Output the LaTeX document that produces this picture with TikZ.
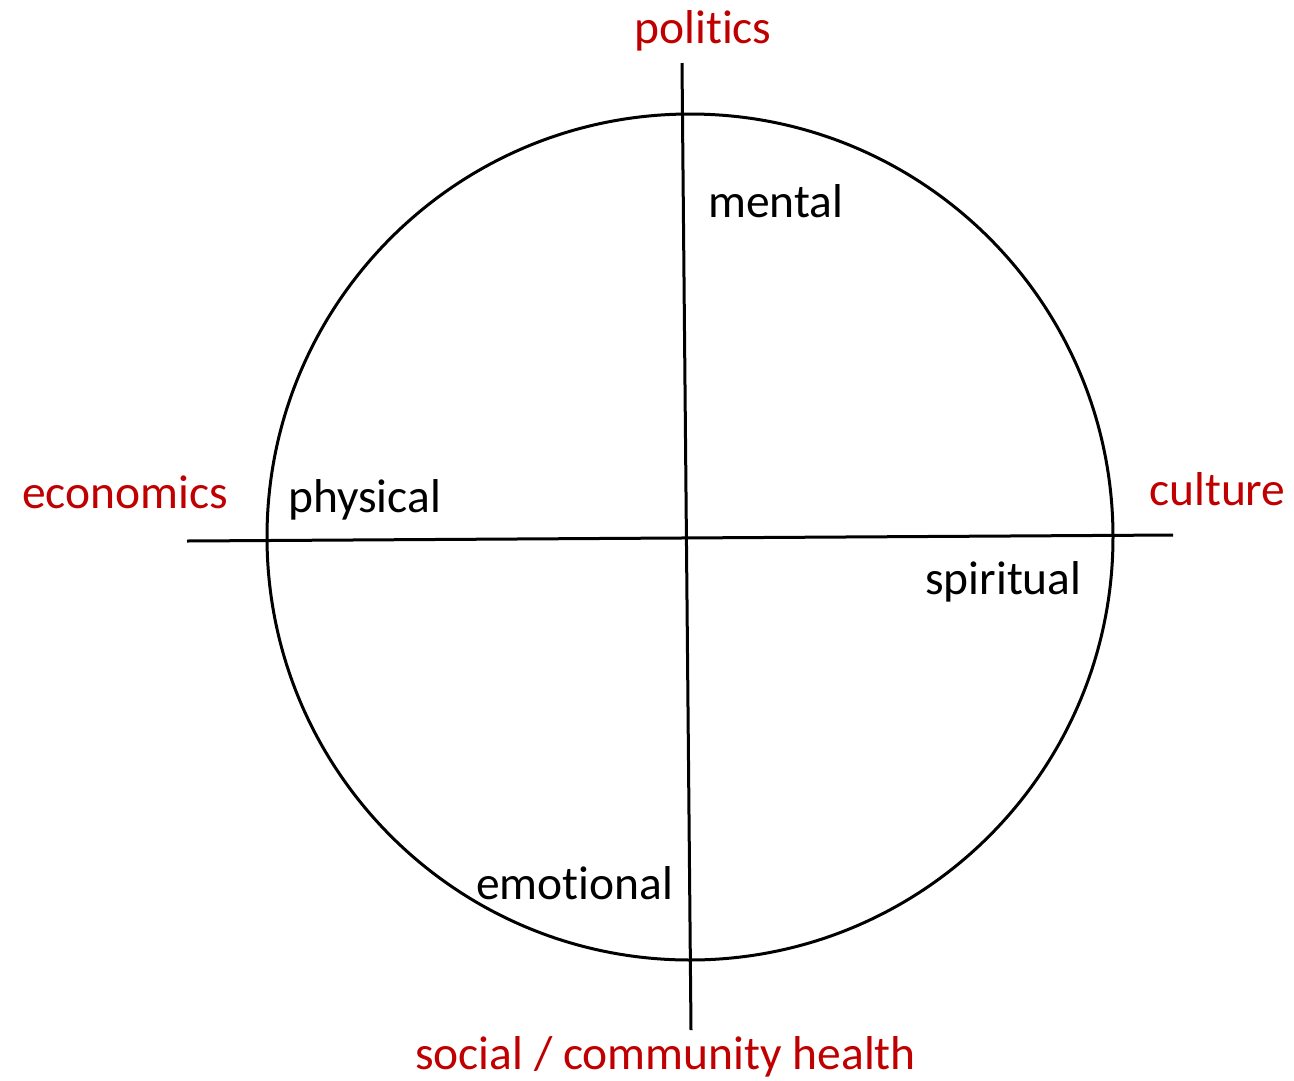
\documentclass[tikz,border=0pt]{standalone}
\usepackage{fontspec}
\setmainfont[Ligatures=NoCommon,RawFeature={-liga;-clig;-calt}]{Carlito}
\definecolor{darkred}{HTML}{C00000}
\begin{document}
\begin{tikzpicture}[x=1pt,y=-1pt,
  lbl/.style={font=\fontsize{47.5}{52}\selectfont,inner sep=0pt,anchor=base west},
  redlbl/.style={lbl,text=darkred},
  axis/.style={line width=3pt,draw=black}]
\useasboundingbox (0,0) rectangle (1294,1080);
\node[draw,line width=3pt,circle,minimum size=846pt,inner sep=0pt] (wheel) at (690,537) {};
\coordinate (vtop) at (682,63);
\coordinate (vbot) at (691,1030);
\coordinate (hleft) at (187,541);
\coordinate (hright) at (1173,535);
\draw[axis] (vtop) -- (vbot);
\draw[axis] (hleft) -- (hright);
\node[redlbl,anchor=base] (politics) at (703,43) {polit\kern0pt ics};
\node[redlbl] (economics) at (22,508) {economics};
\node[redlbl] (culture) at (1149,505) {culture};
\node[redlbl] (social) at (415,1069) {social / community health};
\node[lbl] (mental) at (708,217) {mental};
\node[lbl] (physical) at (288,512) {physical};
\node[lbl] (spiritual) at (925,594) {spiritual};
\node[lbl] (emotional) at (476,899) {emot\kern0pt ional};
\end{tikzpicture}
\end{document}
